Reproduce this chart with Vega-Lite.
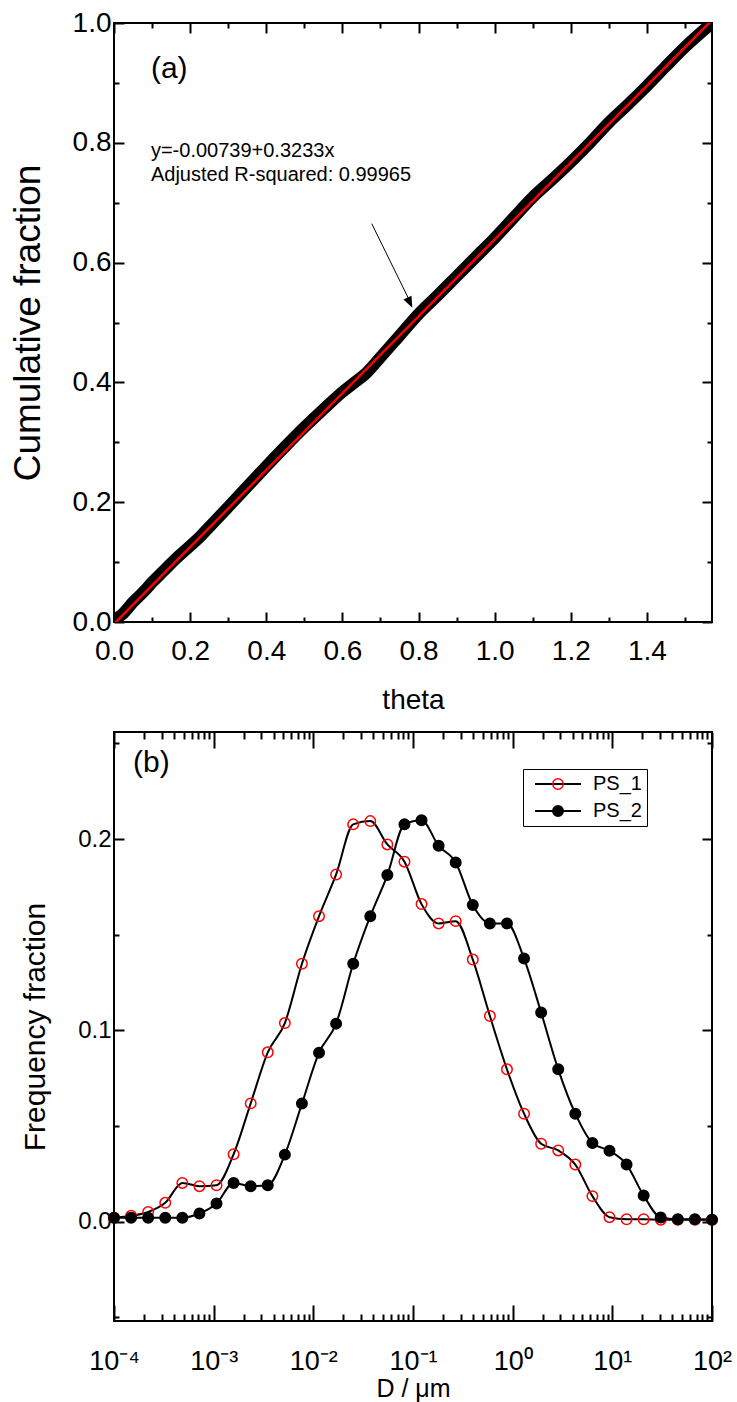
{
  "$schema": "https://vega.github.io/schema/vega-lite/v6.json",
  "background": "white",
  "padding": {"left": 8, "top": 8, "right": 10, "bottom": 5},
  "spacing": 15,
  "config": {
    "view": {"stroke": "black", "strokeWidth": 2},
    "font": "Liberation Sans",
    "axis": {"grid": false, "domain": false, "tickColor": "black", "tickWidth": 2, "labelColor": "black", "titleColor": "black", "labelFont": "Liberation Sans", "titleFont": "Liberation Sans", "titleFontWeight": "normal", "labelFlush": false},
    "legend": {"labelFont": "Liberation Sans", "labelColor": "black"}
  },
  "datasets": {
    "band": [
      {"theta": 0.0, "frac": 0.004}, {"theta": 0.02, "frac": 0.012}, {"theta": 0.05, "frac": 0.033},
      {"theta": 0.08, "frac": 0.052}, {"theta": 0.1, "frac": 0.066}, {"theta": 0.13, "frac": 0.085},
      {"theta": 0.16, "frac": 0.104}, {"theta": 0.2, "frac": 0.127}, {"theta": 0.23, "frac": 0.145},
      {"theta": 0.26, "frac": 0.165}, {"theta": 0.3, "frac": 0.192}, {"theta": 0.35, "frac": 0.226},
      {"theta": 0.4, "frac": 0.26}, {"theta": 0.45, "frac": 0.293}, {"theta": 0.5, "frac": 0.325},
      {"theta": 0.55, "frac": 0.355}, {"theta": 0.6, "frac": 0.384}, {"theta": 0.63, "frac": 0.399},
      {"theta": 0.66, "frac": 0.414}, {"theta": 0.7, "frac": 0.442}, {"theta": 0.75, "frac": 0.478},
      {"theta": 0.8, "frac": 0.514}, {"theta": 0.85, "frac": 0.545}, {"theta": 0.9, "frac": 0.577},
      {"theta": 0.95, "frac": 0.609}, {"theta": 1.0, "frac": 0.641}, {"theta": 1.05, "frac": 0.675},
      {"theta": 1.1, "frac": 0.709}, {"theta": 1.15, "frac": 0.738}, {"theta": 1.2, "frac": 0.768},
      {"theta": 1.25, "frac": 0.8}, {"theta": 1.3, "frac": 0.834}, {"theta": 1.35, "frac": 0.864},
      {"theta": 1.4, "frac": 0.895}, {"theta": 1.45, "frac": 0.928}, {"theta": 1.5, "frac": 0.96},
      {"theta": 1.5708, "frac": 1.0}
    ],
    "fit": [{"theta": 0, "frac": -0.0032}, {"theta": 1.5708, "frac": 1.0049}],
    "ps": [
      {"D": 0.0001, "freq": 0.002, "series": "PS_1"},
      {"D": 0.0001484, "freq": 0.003, "series": "PS_1"},
      {"D": 0.0002202, "freq": 0.005, "series": "PS_1"},
      {"D": 0.0003268, "freq": 0.0098, "series": "PS_1"},
      {"D": 0.000485, "freq": 0.0202, "series": "PS_1"},
      {"D": 0.0007197, "freq": 0.0185, "series": "PS_1"},
      {"D": 0.001068, "freq": 0.019, "series": "PS_1"},
      {"D": 0.0015849, "freq": 0.0352, "series": "PS_1"},
      {"D": 0.002352, "freq": 0.0618, "series": "PS_1"},
      {"D": 0.00349, "freq": 0.0885, "series": "PS_1"},
      {"D": 0.0051795, "freq": 0.1038, "series": "PS_1"},
      {"D": 0.007686, "freq": 0.1348, "series": "PS_1"},
      {"D": 0.011406, "freq": 0.1597, "series": "PS_1"},
      {"D": 0.016927, "freq": 0.1815, "series": "PS_1"},
      {"D": 0.025119, "freq": 0.2077, "series": "PS_1"},
      {"D": 0.037276, "freq": 0.2094, "series": "PS_1"},
      {"D": 0.055314, "freq": 0.1972, "series": "PS_1"},
      {"D": 0.082093, "freq": 0.1882, "series": "PS_1"},
      {"D": 0.12182, "freq": 0.166, "series": "PS_1"},
      {"D": 0.18078, "freq": 0.1559, "series": "PS_1"},
      {"D": 0.26827, "freq": 0.1571, "series": "PS_1"},
      {"D": 0.39811, "freq": 0.137, "series": "PS_1"},
      {"D": 0.59074, "freq": 0.1075, "series": "PS_1"},
      {"D": 0.87668, "freq": 0.0796, "series": "PS_1"},
      {"D": 1.301, "freq": 0.0564, "series": "PS_1"},
      {"D": 1.9307, "freq": 0.0407, "series": "PS_1"},
      {"D": 2.8651, "freq": 0.0372, "series": "PS_1"},
      {"D": 4.2517, "freq": 0.0298, "series": "PS_1"},
      {"D": 6.3096, "freq": 0.0133, "series": "PS_1"},
      {"D": 9.3633, "freq": 0.0023, "series": "PS_1"},
      {"D": 13.895, "freq": 0.0012, "series": "PS_1"},
      {"D": 20.619, "freq": 0.0012, "series": "PS_1"},
      {"D": 30.598, "freq": 0.001, "series": "PS_1"},
      {"D": 45.407, "freq": 0.001, "series": "PS_1"},
      {"D": 67.383, "freq": 0.001, "series": "PS_1"},
      {"D": 100, "freq": 0.001, "series": "PS_1"},
      {"D": 0.0001, "freq": 0.002, "series": "PS_2"},
      {"D": 0.0001484, "freq": 0.002, "series": "PS_2"},
      {"D": 0.0002202, "freq": 0.002, "series": "PS_2"},
      {"D": 0.0003268, "freq": 0.002, "series": "PS_2"},
      {"D": 0.000485, "freq": 0.002, "series": "PS_2"},
      {"D": 0.0007197, "freq": 0.0042, "series": "PS_2"},
      {"D": 0.001068, "freq": 0.0094, "series": "PS_2"},
      {"D": 0.0015849, "freq": 0.0202, "series": "PS_2"},
      {"D": 0.002352, "freq": 0.0185, "series": "PS_2"},
      {"D": 0.00349, "freq": 0.019, "series": "PS_2"},
      {"D": 0.0051795, "freq": 0.035, "series": "PS_2"},
      {"D": 0.007686, "freq": 0.0617, "series": "PS_2"},
      {"D": 0.011406, "freq": 0.0883, "series": "PS_2"},
      {"D": 0.016927, "freq": 0.1035, "series": "PS_2"},
      {"D": 0.025119, "freq": 0.1348, "series": "PS_2"},
      {"D": 0.037276, "freq": 0.1597, "series": "PS_2"},
      {"D": 0.055314, "freq": 0.1812, "series": "PS_2"},
      {"D": 0.082093, "freq": 0.2077, "series": "PS_2"},
      {"D": 0.12182, "freq": 0.2098, "series": "PS_2"},
      {"D": 0.18078, "freq": 0.1965, "series": "PS_2"},
      {"D": 0.26827, "freq": 0.1878, "series": "PS_2"},
      {"D": 0.39811, "freq": 0.1655, "series": "PS_2"},
      {"D": 0.59074, "freq": 0.1559, "series": "PS_2"},
      {"D": 0.87668, "freq": 0.1559, "series": "PS_2"},
      {"D": 1.301, "freq": 0.1375, "series": "PS_2"},
      {"D": 1.9307, "freq": 0.1093, "series": "PS_2"},
      {"D": 2.8651, "freq": 0.0796, "series": "PS_2"},
      {"D": 4.2517, "freq": 0.0564, "series": "PS_2"},
      {"D": 6.3096, "freq": 0.0411, "series": "PS_2"},
      {"D": 9.3633, "freq": 0.037, "series": "PS_2"},
      {"D": 13.895, "freq": 0.0298, "series": "PS_2"},
      {"D": 20.619, "freq": 0.0136, "series": "PS_2"},
      {"D": 30.598, "freq": 0.0021, "series": "PS_2"},
      {"D": 45.407, "freq": 0.0012, "series": "PS_2"},
      {"D": 67.383, "freq": 0.0012, "series": "PS_2"},
      {"D": 100, "freq": 0.001, "series": "PS_2"}
    ]
  },
  "vconcat": [
    {
      "width": 598,
      "height": 599,
      "layer": [
        {
          "data": {"name": "band"},
          "mark": {"type": "line", "color": "black", "strokeWidth": 12, "strokeCap": "round", "strokeJoin": "round", "interpolate": "monotone", "clip": true},
          "encoding": {
            "x": {"field": "theta", "type": "quantitative", "scale": {"domain": [0, 1.5708], "nice": false, "zero": false},
              "axis": {"orient": "bottom", "values": [0, 0.1, 0.2, 0.3, 0.4, 0.5, 0.6, 0.7, 0.8, 0.9, 1.0, 1.1, 1.2, 1.3, 1.4, 1.5],
                "tickSize": {"condition": {"test": "abs(datum.value*5-round(datum.value*5))<0.01", "value": -10}, "value": -5},
                "labelExpr": "abs(datum.value*5-round(datum.value*5))<0.01 ? format(datum.value, '.1f') : ''",
                "labelFontSize": 28, "labelPadding": 25, "title": "theta", "titleFontSize": 28, "titlePadding": 21}},
            "y": {"field": "frac", "type": "quantitative", "scale": {"domain": [0, 1], "nice": false, "zero": false},
              "axis": {"orient": "left", "values": [0, 0.1, 0.2, 0.3, 0.4, 0.5, 0.6, 0.7, 0.8, 0.9, 1.0],
                "tickSize": {"condition": {"test": "abs(datum.value*5-round(datum.value*5))<0.01", "value": -10}, "value": -5},
                "labelExpr": "abs(datum.value*5-round(datum.value*5))<0.01 ? format(datum.value, '.1f') : ''",
                "labelFontSize": 28, "labelPadding": 13, "title": "Cumulative fraction", "titleFontSize": 37, "titlePadding": 25}}
          }
        },
        {
          "data": {"name": "fit"},
          "mark": {"type": "line", "color": "#ff0000", "strokeWidth": 2.5, "clip": true},
          "encoding": {
            "x": {"field": "theta", "type": "quantitative",
              "axis": {"orient": "top", "values": [0, 0.1, 0.2, 0.3, 0.4, 0.5, 0.6, 0.7, 0.8, 0.9, 1.0, 1.1, 1.2, 1.3, 1.4, 1.5],
                "tickSize": {"condition": {"test": "abs(datum.value*5-round(datum.value*5))<0.01", "value": -10}, "value": -5},
                "labels": false, "title": null}},
            "y": {"field": "frac", "type": "quantitative",
              "axis": {"orient": "right", "values": [0, 0.1, 0.2, 0.3, 0.4, 0.5, 0.6, 0.7, 0.8, 0.9, 1.0],
                "tickSize": {"condition": {"test": "abs(datum.value*5-round(datum.value*5))<0.01", "value": -10}, "value": -5},
                "labels": false, "title": null}}
          }
        },
        {
          "data": {"values": [{"theta": 0.097, "frac": 0.923, "label": "(a)"}]},
          "mark": {"type": "text", "align": "left", "baseline": "middle", "fontSize": 30, "font": "Liberation Sans", "color": "black"},
          "encoding": {
            "x": {"field": "theta", "type": "quantitative", "axis": null},
            "y": {"field": "frac", "type": "quantitative", "axis": null},
            "text": {"field": "label"}
          }
        },
        {
          "data": {"values": [
            {"theta": 0.097, "frac": 0.786, "label": "y=-0.00739+0.3233x"},
            {"theta": 0.097, "frac": 0.746, "label": "Adjusted R-squared: 0.99965"}
          ]},
          "mark": {"type": "text", "align": "left", "baseline": "middle", "fontSize": 20, "font": "Liberation Sans", "color": "black"},
          "encoding": {
            "x": {"field": "theta", "type": "quantitative", "axis": null},
            "y": {"field": "frac", "type": "quantitative", "axis": null},
            "text": {"field": "label"}
          }
        },
        {
          "data": {"values": [{"theta": 0.677, "frac": 0.665, "theta2": 0.776, "frac2": 0.537}]},
          "mark": {"type": "rule", "color": "black", "strokeWidth": 1},
          "encoding": {
            "x": {"field": "theta", "type": "quantitative", "axis": null},
            "y": {"field": "frac", "type": "quantitative", "axis": null},
            "x2": {"field": "theta2"},
            "y2": {"field": "frac2"}
          }
        },
        {
          "data": {"values": [{"theta": 0.7836, "frac": 0.5247}]},
          "mark": {"type": "point", "shape": "M0,0L-0.4,-1L0.4,-1Z", "size": 500, "filled": true, "color": "black", "opacity": 1, "angle": -25.8},
          "encoding": {
            "x": {"field": "theta", "type": "quantitative", "axis": null},
            "y": {"field": "frac", "type": "quantitative", "axis": null}
          }
        }
      ],
      "resolve": {"axis": {"x": "independent", "y": "independent"}}
    },
    {
      "width": 598,
      "height": 589,
      "layer": [
        {
          "data": {"name": "ps"},
          "mark": {"type": "line", "strokeWidth": 2, "interpolate": "monotone"},
          "encoding": {
            "x": {"field": "D", "type": "quantitative", "scale": {"type": "log", "domain": [0.0001, 100], "nice": false},
              "axis": {"orient": "bottom",
                "values": [0.0001, 0.0002, 0.0003, 0.0004, 0.0005, 0.0006, 0.0007, 0.0008, 0.0009, 0.001, 0.002, 0.003, 0.004, 0.005, 0.006, 0.007, 0.008, 0.009, 0.01, 0.02, 0.03, 0.04, 0.05, 0.06, 0.07, 0.08, 0.09, 0.1, 0.2, 0.3, 0.4, 0.5, 0.6, 0.7, 0.8, 0.9, 1, 2, 3, 4, 5, 6, 7, 8, 9, 10, 20, 30, 40, 50, 60, 70, 80, 90, 100],
                "tickSize": {"condition": {"test": "abs(log(datum.value)/log(10)-round(log(datum.value)/log(10)))<0.001", "value": -16}, "value": -7},
                "labelExpr": "abs(log(datum.value)/log(10)-round(log(datum.value)/log(10)))>0.001 ? '' : datum.value < 0.0005 ? '10⁻⁴' : datum.value < 0.005 ? '10⁻³' : datum.value < 0.05 ? '10⁻²' : datum.value < 0.5 ? '10⁻¹' : datum.value < 5 ? '10⁰' : datum.value < 50 ? '10¹' : '10²'",
                "labelFontSize": 27, "labelPadding": 43, "title": "D / μm", "titleFontSize": 25, "titlePadding": 2}},
            "y": {"field": "freq", "type": "quantitative", "scale": {"domain": [-0.052, 0.256], "nice": false, "zero": false},
              "axis": {"orient": "left", "values": [-0.05, 0, 0.05, 0.1, 0.15, 0.2, 0.25],
                "tickSize": {"condition": {"test": "abs(datum.value*10-round(datum.value*10))<0.01", "value": -10}, "value": -5},
                "labelExpr": "abs(datum.value*10-round(datum.value*10))<0.01 ? format(datum.value, '.1f') : ''",
                "labelFontSize": 24, "labelPadding": 13, "title": "Frequency fraction", "titleFontSize": 30, "titlePadding": 27}},
            "detail": {"field": "series"},
            "color": {"field": "series", "type": "nominal", "scale": {"domain": ["PS_1", "PS_2"], "range": ["black", "black"]},
              "legend": {"orient": "none", "legendX": 409, "legendY": 746, "title": null, "symbolType": "M-0.6,0L8.6,0", "symbolSize": 100, "symbolStrokeWidth": 2,
                "labelFontSize": 20, "labelOffset": 45, "padding": 5, "rowPadding": 7, "strokeColor": "black", "fillColor": "white"}}
          }
        },
        {
          "data": {"name": "ps"},
          "mark": {"type": "point", "size": 110, "strokeWidth": 1.5, "opacity": 1},
          "encoding": {
            "x": {"field": "D", "type": "quantitative",
              "axis": {"orient": "top",
                "values": [0.0001, 0.0002, 0.0003, 0.0004, 0.0005, 0.0006, 0.0007, 0.0008, 0.0009, 0.001, 0.002, 0.003, 0.004, 0.005, 0.006, 0.007, 0.008, 0.009, 0.01, 0.02, 0.03, 0.04, 0.05, 0.06, 0.07, 0.08, 0.09, 0.1, 0.2, 0.3, 0.4, 0.5, 0.6, 0.7, 0.8, 0.9, 1, 2, 3, 4, 5, 6, 7, 8, 9, 10, 20, 30, 40, 50, 60, 70, 80, 90, 100],
                "tickSize": {"condition": {"test": "abs(log(datum.value)/log(10)-round(log(datum.value)/log(10)))<0.001", "value": -16}, "value": -7},
                "labels": false, "title": null}},
            "y": {"field": "freq", "type": "quantitative",
              "axis": {"orient": "right", "values": [-0.05, 0, 0.05, 0.1, 0.15, 0.2, 0.25],
                "tickSize": {"condition": {"test": "abs(datum.value*10-round(datum.value*10))<0.01", "value": -10}, "value": -5},
                "labels": false, "title": null}},
            "stroke": {"field": "series", "type": "nominal", "scale": {"range": ["#ff0000", "black"]},
              "legend": {"orient": "none", "legendX": 429, "legendY": 746, "title": null, "symbolType": "circle", "symbolSize": 110, "symbolStrokeWidth": 1.5,
                "labelFontSize": 20, "labelOffset": 45, "padding": 5, "rowPadding": 7, "labelExpr": "' '"}},
            "fill": {"field": "series", "type": "nominal", "scale": {"range": ["transparent", "black"]},
              "legend": {"orient": "none", "legendX": 429, "legendY": 746, "title": null, "symbolType": "circle", "symbolSize": 110, "symbolStrokeWidth": 1.5,
                "labelFontSize": 20, "labelOffset": 45, "padding": 5, "rowPadding": 7, "labelExpr": "' '"}}
          }
        },
        {
          "data": {"values": [{"D": 0.000155, "freq": 0.2396, "label": "(b)"}]},
          "mark": {"type": "text", "align": "left", "baseline": "middle", "fontSize": 30, "font": "Liberation Sans", "color": "black"},
          "encoding": {
            "x": {"field": "D", "type": "quantitative", "axis": null},
            "y": {"field": "freq", "type": "quantitative", "axis": null},
            "text": {"field": "label"}
          }
        }
      ],
      "resolve": {"axis": {"x": "independent", "y": "independent"}}
    }
  ]
}
